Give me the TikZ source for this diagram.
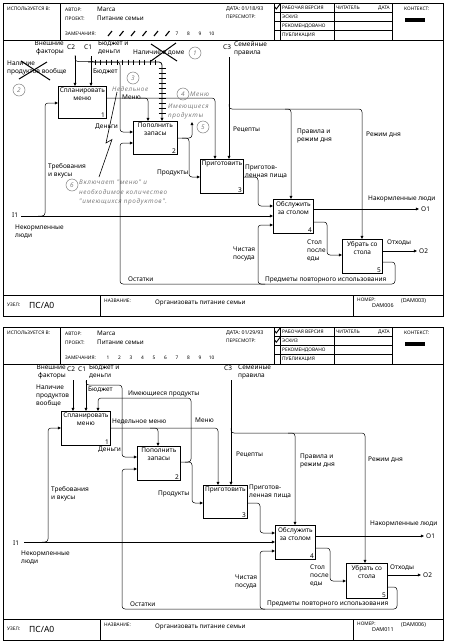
\documentclass[tikz,border=0pt]{standalone}
\usepackage{fontspec}
\setmainfont{Noto Sans}
\newfontfamily\notefam[LetterSpace=9]{Noto Sans}
\usetikzlibrary{arrows.meta}
\definecolor{notegray}{gray}{0.5}
\newcommand\mylbl{\fontsize{6.5}{8}\selectfont}
\newcommand\myhdr{\fontsize{4.8}{5.5}\selectfont}
\newcommand\myval{\fontsize{6.3}{7}\selectfont}
\newcommand\mynodef{\fontsize{8.5}{9}\selectfont}
\newcommand\myhdrbig{\fontsize{5.4}{6}\selectfont}
\newcommand\mydate{\fontsize{5.2}{6}\selectfont}
\newcommand\mynote{\notefam\itshape\fontsize{6.4}{9.5}\selectfont}
\newcommand\idefform[6]{%
\begin{scope}[shift={(0,#2)}]
\draw[frame] (3,3) rectangle (443,316);
\draw[frame] (3,40) -- (443,40) (3,295) -- (443,295) (60,3) -- (60,40)
  (274,3) -- (274,40) (280,3) -- (280,40) (334,3) -- (334,40) (392,3) -- (392,40)
  (274,12.25) -- (392,12.25) (274,21.5) -- (392,21.5) (274,30.75) -- (392,30.75)
  (100,295) -- (100,316) (353,295) -- (353,316);
\fill (405,18) rectangle (425,22);
\node[hdr] (#1used) at (7,9) {ИСПОЛЬЗУЕТСЯ В:};
\node[hdr] (#1aut) at (65,10) {АВТОР:};
\node[val] (#1autv) at (97,9) {Marca};
\node[hdr] (#1prj) at (65,18.5) {ПРОЕКТ:};
\node[val] (#1prjv) at (97,18) {Питание семьи};
\node[hdr] (#1rem) at (65,33.5) {ЗАМЕЧАНИЯ:};
\node[hdr, font=\mydate] (#1date) at (226,9) {ДАТА: #3};
\node[hdr] (#1rev) at (226,17) {ПЕРЕСМОТР:};
\node[hdr] (#1st1) at (282,7.7) {РАБОЧАЯ ВЕРСИЯ};
\node[hdr] (#1st2) at (282,16.9) {ЭСКИЗ};
\node[hdr] (#1st3) at (282,26.1) {РЕКОМЕНДОВАНО};
\node[hdr] (#1st4) at (282,35.4) {ПУБЛИКАЦИЯ};
\node[hdr] (#1rdr) at (336,7.7) {ЧИТАТЕЛЬ};
\node[hdr, anchor=east] (#1rdd) at (390,7.7) {ДАТА};
\node[hdr] (#1ctx) at (404,9) {КОНТЕКСТ:};
\node[hdr] (#1nd) at (7,305) {УЗЕЛ:};
\node[val, font=\mynodef] (#1ndv) at (29,305.5) {ПС/A0};
\node[hdr] (#1ttl) at (104,301) {НАЗВАНИЕ:};
\node[val] (#1ttlv) at (155,302.5) {Организовать питание семьи};
\node[hdr] (#1num) at (357,300) {НОМЕР:};
\node[val, font=\myhdrbig] (#1numv) at (372,306) {#4};
\node[val, font=\myhdrbig] (#1par) at (401,301) {(#5)};
#6
\end{scope}}
\begin{document}
\begin{tikzpicture}[x=1pt,y=-1pt,
  frame/.style={line width=0.55pt},
  box/.style={draw, line width=0.75pt, inner sep=0pt, anchor=north west},
  boxtxt/.style={font=\mylbl, align=center, inner sep=0pt, anchor=north, yshift=-2pt},
  num/.style={font=\mylbl, inner sep=0pt, anchor=south east, xshift=-1.6pt, yshift=1.4pt},
  lbl/.style={font=\mylbl, inner sep=0pt, anchor=west},
  mlbl/.style={font=\mylbl, inner sep=0pt, anchor=north west, align=left},
  hdr/.style={font=\myhdr, inner sep=0pt, anchor=west},
  val/.style={font=\myval, inner sep=0pt, anchor=west},
  note/.style={font=\mynote, text=notegray, inner sep=0pt, anchor=west},
  mnote/.style={note, anchor=north west, align=left},
  circ/.style={draw=notegray, circle, line width=0.5pt, inner sep=0pt, minimum size=12pt, font=\mynote, text=notegray},
  con/.style={line width=0.5pt, rounded corners=3pt},
  arr/.style={con, -{Triangle[length=3.2pt,width=2.8pt]}},
  cross/.style={line width=1pt},
  hatch/.style={line width=0.9pt},
  chk/.style={line width=0.9pt}]
\fill[white] (0,0) rectangle (450,643);
\useasboundingbox (0,0) rectangle (450,643);

% ================= TOP FORM =================
\idefform{t}{0}{01/18/93}{DAM006}{DAM003}{%
  \draw[chk] (274.5,6.5) -- (276.3,9) -- (280.5,3.5);
  \foreach \i in {1,...,6} \draw[line width=1.1pt] ({96.5+11.5*\i},36) -- ({100.5+11.5*\i},31);
  \foreach \i/\xx in {7/177,8/188.5,9/200,10/211.5} \node[hdr, anchor=center] (trem\i) at (\xx,33.5) {\i};
}

\node[box, minimum width=48pt, minimum height=32pt] (t1) at (58,86) {};
\node[boxtxt] (t1t) at (t1.north) {Спланировать\\меню};
\node[num] (t1n) at (t1.south east) {1};
\node[box, minimum width=44pt, minimum height=33pt] (t2) at (133,121) {};
\node[boxtxt] (t2t) at (t2.north) {Пополнить\\запасы};
\node[num] (t2n) at (t2.south east) {2};
\node[box, minimum width=43pt, minimum height=34pt] (t3) at (200,159) {};
\node[boxtxt] (t3t) at (t3.north) {Приготовить};
\node[num] (t3n) at (t3.south east) {3};
\node[box, minimum width=40pt, minimum height=34pt] (t4) at (273,199) {};
\node[boxtxt] (t4t) at (t4.north) {Обслужить\\за столом};
\node[num] (t4n) at (t4.south east) {4};
\node[box, minimum width=40pt, minimum height=34pt] (t5) at (342,239) {};
\node[boxtxt] (t5t) at (t5.north) {Убрать со\\стола};
\node[num] (t5n) at (t5.south east) {5};

% controls C2, C1
\node[mlbl, align=right, anchor=north east] (tc2l) at (64,41) {Внешние\\факторы};
\node[lbl] (tc2) at (67,47) {C2};
\node[lbl] (tc1) at (84,47) {C1};
\node[mlbl] (tc1l) at (98,41) {Бюджет и\\деньги};
\coordinate (tc2p) at (75,56);
\coordinate (tc1p) at (91,56);
\draw[arr] (tc2p) -- (tc2p |- t1.north);
\draw[arr] (tc1p) -- (tc1p |- t1.north);
\draw[arr] (91,58) |- (120,62) |- (t2.west |- 0,132);
\draw[con] (75,55) |- (92,61.5);
\coordinate (thp) at (162,62);
\draw[arr, line width=0.8pt] (88,62) -| (thp |- t2.north);
\foreach \xx in {95,100.5,...,156} \draw[hatch] (\xx,59.5) -- (\xx,64.5);
\foreach \yy in {68,73,...,114} \draw[hatch] (158.5,\yy) -- (165.5,\yy);
\node[lbl] (tnd) at (133,53) {Наличие в доме};
\draw[cross] (151,44) -- (177,61);
\draw[cross] (151,61) -- (176,43);
\node[circ] (tk1) at (195,53) {1};
\node[mlbl] (tnp) at (7,60.5) {Наличие\\продуктов вообще};
\draw[cross] (21,61) -- (50,80);
\draw[cross] (19,79) -- (47,62);
\node[circ] (tk2) at (19,90) {2};
\node[lbl] (tbud) at (93,72) {Бюджет};
\node[circ] (tk3) at (133,78) {3};
\node[note] (tned) at (112,89) {Недельное};
\node[lbl] (tmen) at (122,97.5) {Меню};
\coordinate (tx148) at (148,98);
\draw[arr] (t1.east |- tx148) -| (tx148 |- t2.north);
\coordinate (tx215) at (215,98);
\draw[arr] (140,98) -| (tx215 |- t3.north);
\node[circ] (tk4) at (183,94) {4};
\node[note] (tmen2) at (190,94) {Меню};
\node[mnote] (tim) at (168,103.5) {Имеющиеся\\продукты};
\node[circ] (tk5) at (203,127) {5};
\draw[arr] (t2.east |- 0,138) -| (192,122);
\draw[arr] (182,138) -| (189,177) -- (t3.west |- 0,177);
\node[lbl] (tprod) at (157,173) {Продукты};
\node[lbl] (tden) at (95,127) {Деньги};
\draw[line width=0.6pt] (117,92) -- (106,143) -- (112,139.5) -- (99,177);
\node[circ] (tk6) at (72,185) {6};
\node[mnote] (tn6) at (79,180) {Включает "меню" и\\необходимое количество\\"имеющихся продуктов".};

% input I1
\node[lbl] (ti1) at (12,215) {I1};
\coordinate (ti1p) at (21,216);
\draw[arr] (ti1p) -- (t4.west |- ti1p);
\draw[arr] (38,216) -| (45,103) -- (t1.west |- 0,103);
\node[mlbl] (ttreb) at (48,163.5) {Требования\\и вкусы};
\node[mlbl] (tnek) at (15,224.5) {Некормленные\\люди};

% box 3 output
\draw[arr] (t3.east |- 0,177) -| (258,206) -- (t4.west |- 0,206);
\node[mlbl] (tpp) at (245,164.5) {Приготов-\\ленная пища};

% control C3
\node[lbl] (tc3) at (223,47) {C3};
\node[mlbl] (tc3l) at (234,41.5) {Семейные\\правила};
\coordinate (tc3p) at (229,57);
\draw[arr] (tc3p) -- (tc3p |- t3.north);
\coordinate (tx291) at (291,109);
\draw[arr] (229,104) |- (tx291) -- (tx291 |- t4.north);
\coordinate (tx362) at (362,109);
\draw[arr] (285,109) -- (tx362) -- (tx362 |- t5.north);
\node[lbl] (trec) at (233,130) {Рецепты};
\node[mlbl] (tprd) at (297,128.5) {Правила и\\режим дня};
\node[lbl] (trd) at (366,135) {Режим дня};

% outputs
\coordinate (to1) at (419,209);
\draw[arr] (t4.east |- to1) -- (to1);
\node[lbl] (to1l) at (421,209) {O1};
\node[lbl] (tnak) at (368,199) {Накормленные люди};
\draw[arr] (t4.east |- 0,222) -| (327,255) -- (t5.west |- 0,255);
\node[mlbl] (tstol) at (307,239.5) {Стол\\после\\еды};
\coordinate (to2) at (417,251);
\draw[arr] (t5.east |- to2) -- (to2);
\node[lbl] (to2l) at (419,251) {O2};
\node[lbl] (totx) at (387,243) {Отходы};
\draw[arr] (t5.east |- 0,262) -| (395,284) -| (258,225) -- (t4.west |- 0,225);
\draw[arr] (265,284) -| (120,143) -- (t2.west |- 0,143);
\node[mlbl] (tchp) at (233,246.5) {Чистая\\посуда};
\node[lbl] (tpred) at (265,279.5) {Предметы повторного использования};
\node[lbl] (tost) at (128,279.5) {Остатки};

% ================= BOTTOM FORM =================
\idefform{b}{324}{01/29/93}{DAM011}{DAM006}{%
  \draw[chk] (274.5,6.5) -- (276.3,9) -- (280.5,3.5);
  \draw[chk] (274.5,15.75) -- (276.3,18.25) -- (280.5,12.75);
  \foreach \i in {1,...,10} \node[hdr, anchor=center] (brem\i) at ({96.5+11.5*\i},33.5) {\i};
}

\node[box, minimum width=49pt, minimum height=34pt] (b1) at (61,411) {};
\node[boxtxt] (b1t) at (b1.north) {Спланировать\\меню};
\node[num] (b1n) at (b1.south east) {1};
\node[box, minimum width=43pt, minimum height=34pt] (b2) at (137,446) {};
\node[boxtxt] (b2t) at (b2.north) {Пополнить\\запасы};
\node[num] (b2n) at (b2.south east) {2};
\node[box, minimum width=44pt, minimum height=33pt] (b3) at (203,485) {};
\node[boxtxt] (b3t) at (b3.north) {Приготовить};
\node[num] (b3n) at (b3.south east) {3};
\node[box, minimum width=40pt, minimum height=34pt] (b4) at (275,525) {};
\node[boxtxt] (b4t) at (b4.north) {Обслужить\\за столом};
\node[num] (b4n) at (b4.south east) {4};
\node[box, minimum width=41pt, minimum height=35pt] (b5) at (346,563) {};
\node[boxtxt] (b5t) at (b5.north) {Убрать со\\стола};
\node[num] (b5n) at (b5.south east) {5};

\node[mlbl, align=right, anchor=north east] (bc2l) at (66,364.5) {Внешние\\факторы};
\node[lbl] (bc2) at (67,369) {C2};
\node[lbl] (bc1) at (78,369) {C1};
\node[mlbl] (bc1l) at (89,364.5) {Бюджет и\\деньги};
\coordinate (bc2p) at (73,380);
\coordinate (bc1p) at (86,380);
\draw[arr] (bc2p) -- (bc2p |- b1.north);
\draw[arr] (bc1p) -- (bc1p |- b1.north);
\draw[arr] (86,381) |- (122,385) |- (b2.west |- 0,457);
\node[mlbl] (bnp) at (36,384.5) {Наличие\\продуктов\\вообще};
\node[lbl] (bbud) at (88,390) {Бюджет};
\coordinate (bx98) at (98,398);
\draw[arr] (b2.east |- 0,462) -| (191,398) -- (bx98) -- (bx98 |- b1.north);
\node[lbl] (bim) at (128,393.5) {Имеющиеся продукты};
\draw[arr] (185,462) -| (192,503) -- (b3.west |- 0,503);
\node[lbl] (bprod) at (158,494) {Продукты};
\coordinate (bx158) at (158,428);
\draw[arr] (b1.east |- bx158) -| (bx158 |- b2.north);
\coordinate (bx218) at (218,428);
\draw[arr] (150,428) -| (bx218 |- b3.north);
\node[lbl] (bned) at (112,422) {Недельное меню};
\node[lbl] (bmen) at (195,420) {Меню};

\node[lbl] (bi1) at (13,543) {I1};
\coordinate (bi1p) at (24,542);
\draw[arr] (bi1p) -- (b4.west |- bi1p);
\draw[arr] (42,542) -| (48,428) -- (b1.west |- 0,428);
\node[mlbl] (btreb) at (51,486.5) {Требования\\и вкусы};
\node[mlbl] (bnek) at (21,550.5) {Некормленные\\люди};
\node[lbl] (bden) at (98,450) {Деньги};

\draw[arr] (b3.east |- 0,503) -| (260,533) -- (b4.west |- 0,533);
\node[mlbl] (bpp) at (249,484.5) {Приготов-\\ленная пища};

\node[lbl] (bc3) at (224,368) {C3};
\node[mlbl] (bc3l) at (238,364.5) {Семейные\\правила};
\coordinate (bc3p) at (231,380);
\draw[arr] (bc3p) -- (bc3p |- b3.north);
\coordinate (bx295) at (295,433);
\draw[arr] (231,428) |- (bx295) -- (bx295 |- b4.north);
\coordinate (bx365) at (365,433);
\draw[arr] (288,433) -- (bx365) -- (bx365 |- b5.north);
\node[lbl] (brec) at (236,455) {Рецепты};
\node[mlbl] (bprd) at (300,453.5) {Правила и\\режим дня};
\node[lbl] (brd) at (368,460) {Режим дня};

\coordinate (bo1) at (424,536);
\draw[arr] (b4.east |- bo1) -- (bo1);
\node[lbl] (bo1l) at (426,536) {O1};
\node[lbl] (bnak) at (370,524) {Накормленные люди};
\draw[arr] (b4.east |- 0,548) -| (330,581) -- (b5.west |- 0,581);
\node[mlbl] (bstol) at (310,564.5) {Стол\\после\\еды};
\coordinate (bo2) at (421,575);
\draw[arr] (b5.east |- bo2) -- (bo2);
\node[lbl] (bo2l) at (423,575) {O2};
\node[lbl] (botx) at (390,568) {Отходы};
\draw[arr] (b5.east |- 0,587) -| (397,609) -| (260,551) -- (b4.west |- 0,551);
\draw[arr] (265,609) -| (122,469) -- (b2.west |- 0,469);
\node[mlbl] (bchp) at (235,574.5) {Чистая\\посуда};
\node[lbl] (bpred) at (267,604) {Предметы повторного использования};
\node[lbl] (bost) at (130,604) {Остатки};
\end{tikzpicture}
\end{document}
